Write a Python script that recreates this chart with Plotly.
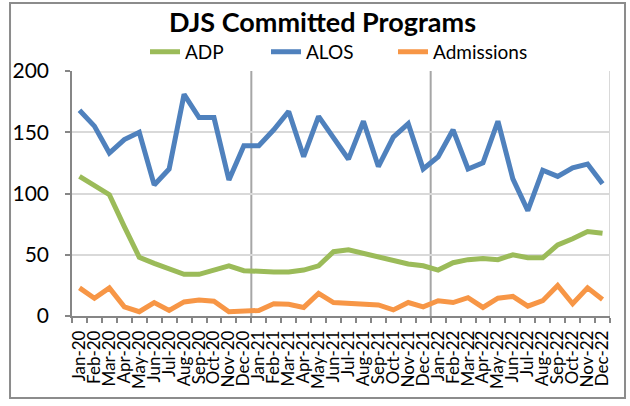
import plotly.graph_objects as go

months = ["Jan", "Feb", "Mar", "Apr", "May", "Jun", "Jul", "Aug", "Sep", "Oct", "Nov", "Dec"]
categories = [f"{m}-{y}" for y in ["20", "21", "22"] for m in months]

adp = [114, 107, 99, 73, 48, 43, 39, 34, 34, 38, 41, 37,
       36, 36, 36, 37.5, 41, 52.5, 54, 51, 48.5, 46, 42.5, 41,
       37.5, 43.5, 46, 47, 46, 50, 47.5, 47.5, 58, 63, 69, 67.5]
alos = [168, 155, 133, 144, 150, 107, 120, 181, 162, 162, 111, 139,
        139, 152, 167, 130, 163, 146, 128, 159, 122, 146, 157, 120,
        130, 152, 120, 125, 159, 112, 86, 119, 114, 121, 124, 108]
admissions = [23, 14.5, 23, 7.5, 3.5, 11, 4.5, 11.5, 13, 12, 3.5, 4.5,
              4.5, 10, 9.5, 7, 18.5, 11, 10, 10, 9, 5, 11, 7.5,
              12.5, 11, 15, 7, 14.5, 16, 8, 12.5, 25, 10, 23, 13.5]

y_ticks = [0, 50, 100, 150, 200]
FONT = "Lato"

fig = go.Figure()
fig.add_trace(go.Scatter(x=categories, y=adp, name="ADP", mode="lines", legend="legend",
                         line=dict(color="#9BBB59", width=5)))
fig.add_trace(go.Scatter(x=categories, y=alos, name="ALOS", mode="lines", legend="legend2",
                         line=dict(color="#4F81BD", width=5)))
fig.add_trace(go.Scatter(x=categories, y=admissions, name="Admissions", mode="lines",
                         legend="legend3", line=dict(color="#F79646", width=5)))

# year separators and right edge
for xv, col in [(11.5, "#A6A6A6"), (23.5, "#A6A6A6"), (35.5, "#D9D9D9")]:
    fig.add_shape(type="line", xref="x", yref="paper", x0=xv, x1=xv, y0=0, y1=1,
                  line=dict(color=col, width=2), layer="below")

# outer chart border
fig.add_shape(type="rect", xref="paper", yref="paper",
              x0=-0.1152, x1=1.0279, y0=-0.3347, y1=1.2776,
              line=dict(color="#8C8C8C", width=2))

def leg(xpos):
    return dict(orientation="h", x=xpos, xanchor="left", y=1.078, yanchor="middle",
                font=dict(size=19, family=FONT), bgcolor="rgba(0,0,0,0)", itemwidth=30)

fig.update_layout(
    width=630, height=406,
    margin=dict(l=72, r=20, t=71, b=90),
    paper_bgcolor="white", plot_bgcolor="white",
    font=dict(family=FONT, color="black"),
    title=dict(text="<b>DJS Committed Programs</b>", x=0.512, xanchor="center",
               y=0.945, yanchor="middle", font=dict(size=27, family=FONT, color="black")),
    legend=leg(0.1357), legend2=leg(0.3606), legend3=leg(0.5967),
    showlegend=True,
)
fig.update_xaxes(type="category", tickmode="array", tickvals=categories, ticktext=categories,
                 tickson="boundaries", ticks="outside", ticklen=5,
                 tickcolor="#868686", tickwidth=1.5, tickangle=-90,
                 tickfont=dict(size=17, family=FONT), showgrid=False,
                 showline=True, linecolor="#868686", linewidth=1.5,
                 range=[-0.5, 35.5], ticklabelstandoff=6, automargin=False)
fig.update_yaxes(range=[0, 200], tickvals=y_ticks, ticks="outside", ticklen=5,
                 tickcolor="#868686", tickwidth=1.5, tickfont=dict(size=21, family=FONT),
                 showgrid=True, gridcolor="#D9D9D9", gridwidth=1.5,
                 showline=True, linecolor="#868686", linewidth=1.5,
                 zeroline=False, ticklabelstandoff=12, automargin=False)

fig.write_html("out.html", config={"displayModeBar": False},
               post_script="document.body.style.margin='0';")
